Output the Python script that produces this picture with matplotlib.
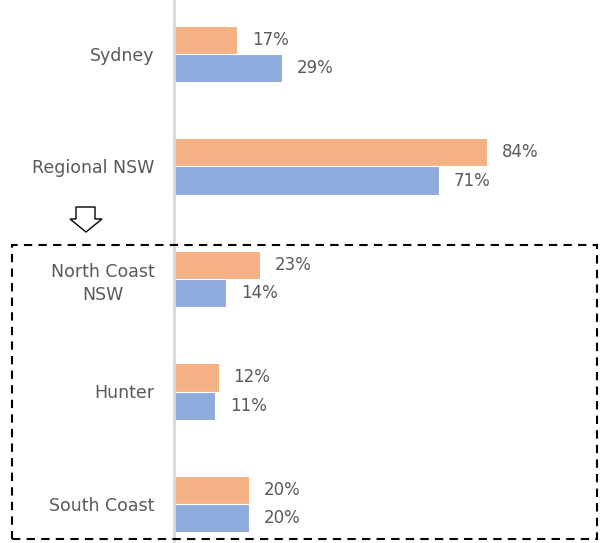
import numpy as np
import matplotlib.pyplot as plt
from matplotlib.patches import Rectangle, Polygon

categories = ['Sydney', 'Regional NSW', 'North Coast\nNSW', 'Hunter', 'South Coast']
orange_vals = [17, 84, 23, 12, 20]
blue_vals = [29, 71, 14, 11, 20]

W, H = 605, 543
plt.rcParams['font.family'] = ['DejaVu Sans']
fig = plt.figure(figsize=(W / 100, H / 100), dpi=100)
ax = fig.add_axes([174 / W, 0, (600 - 174) / W, 1])

y = np.arange(len(categories))
h = 0.25
ax.barh(y - h / 2, orange_vals, height=h, color='#F4B183', edgecolor='white', linewidth=0.8)
ax.barh(y + h / 2, blue_vals, height=h, color='#8FAADC', edgecolor='white', linewidth=0.8)

for yi, v in zip(y, orange_vals):
    ax.text(v + 4.0, yi - h / 2, f'{v}%', va='center', ha='left', fontsize=12, color='#595959')
for yi, v in zip(y, blue_vals):
    ax.text(v + 4.0, yi + h / 2, f'{v}%', va='center', ha='left', fontsize=12, color='#595959')

ax.set_xlim(0, (600 - 174) / 3.726)
ax.set_ylim(4 + 39 / 112.5, -54 / 112.5)
ax.set_yticks(y)
ax.set_yticklabels(categories, fontsize=12.5, color='#595959', linespacing=1.35)
for lab in ax.get_yticklabels():
    lab.set_multialignment('center')
ax.tick_params(axis='y', length=0, pad=14)
ax.set_xticks([])
for s in ['top', 'right', 'bottom']:
    ax.spines[s].set_visible(False)
ax.spines['left'].set_color('#D9D9D9')
ax.spines['left'].set_linewidth(2)

# dashed box around the regional breakdown
fig.patches.append(Rectangle((12 / W, 1 - 539 / H), (597 - 12) / W, (539 - 245) / H,
                             transform=fig.transFigure, fill=False, edgecolor='black',
                             linestyle=(0, (4, 3)), linewidth=1.5, zorder=5))

# down arrow
pts = [(76, 207), (95, 207), (95, 219), (102, 219), (86, 232), (70, 219), (76, 219)]
fig.patches.append(Polygon([(px / W, 1 - py / H) for px, py in pts], closed=True,
                           transform=fig.transFigure, facecolor='white', edgecolor='black',
                           linewidth=1))

fig.savefig('out.png', dpi=100)
